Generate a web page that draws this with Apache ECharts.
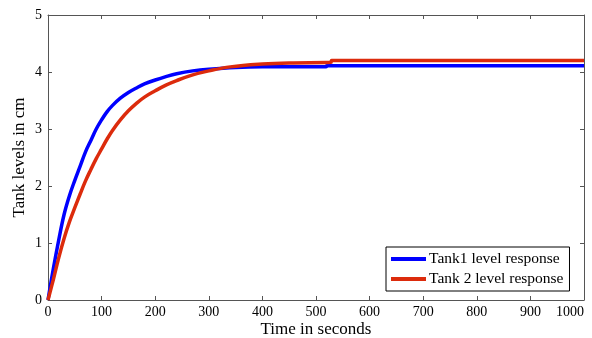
<!DOCTYPE html>
<html>
<head>
<meta charset="utf-8">
<script src="https://cdn.jsdelivr.net/npm/echarts@6/dist/echarts.min.js"></script>
<style>
  html, body { margin: 0; padding: 0; background: #fff; }
  #chart { width: 592px; height: 338px; }
</style>
</head>
<body>
<div id="chart"></div>
<script>
// time samples (s) and levels (cm)
const tank1Time = [0, 10, 20, 30, 40, 50, 60, 70, 80, 90, 100, 110, 120, 135, 150, 165, 180, 200, 220, 240, 270, 300, 350, 400, 450, 519, 520, 600, 700, 800, 900, 1000];
const tank1Level = [0, 0.55, 1.05, 1.5, 1.83, 2.1, 2.35, 2.6, 2.8, 3.0, 3.16, 3.3, 3.41, 3.54, 3.64, 3.72, 3.79, 3.86, 3.92, 3.97, 4.02, 4.05, 4.08, 4.09, 4.09, 4.09, 4.11, 4.11, 4.11, 4.11, 4.11, 4.11];

const tank2Time = [0, 10, 20, 30, 40, 50, 60, 70, 80, 90, 100, 110, 120, 135, 150, 165, 180, 200, 220, 240, 270, 300, 340, 400, 450, 528, 529, 600, 700, 800, 900, 1000];
const tank2Level = [0, 0.36, 0.74, 1.08, 1.37, 1.62, 1.86, 2.09, 2.29, 2.48, 2.65, 2.82, 2.97, 3.16, 3.32, 3.45, 3.56, 3.67, 3.77, 3.85, 3.95, 4.02, 4.09, 4.14, 4.16, 4.17, 4.2, 4.2, 4.2, 4.2, 4.2, 4.2];

const seriesNames = ["Tank1 level response", "Tank 2 level response"];
const xTicks = [0, 1000, 100];
const yTicks = [0, 5, 1];

const pairs = (xs, ys) => xs.map((x, i) => [x, ys[i]]);

const font = "'Liberation Serif', 'Times New Roman', serif";
const axisColor = "#555";

const chart = echarts.init(document.getElementById("chart"));

const baseX = {
  type: "value",
  min: xTicks[0],
  max: xTicks[1],
  interval: xTicks[2],
  splitLine: { show: false },
  axisLine: { show: true, onZero: false, lineStyle: { color: axisColor, width: 1 } },
  axisTick: { show: true, inside: true, length: 4, lineStyle: { color: axisColor } },
};
const baseY = {
  type: "value",
  min: yTicks[0],
  max: yTicks[1],
  interval: yTicks[2],
  splitLine: { show: false },
  axisLine: { show: true, onZero: false, lineStyle: { color: axisColor, width: 1 } },
  axisTick: { show: true, inside: true, length: 4, lineStyle: { color: axisColor } },
};

const option = {
  animation: false,
  backgroundColor: "#fff",
  grid: { left: 48, right: 8, top: 15, bottom: 38, containLabel: false, outerBoundsMode: "none" },
  legend: {
    data: seriesNames,
    orient: "vertical",
    left: 386,
    top: 247,
    padding: [4, 6, 4, 5],
    itemGap: 4,
    itemWidth: 35,
    itemHeight: 4,
    icon: "rect",
    borderColor: "#000",
    borderWidth: 1,
    backgroundColor: "#fff",
    textStyle: { fontFamily: font, fontSize: 15.5, color: "#000", padding: [0, 0, 0, -2] },
  },
  xAxis: [
    Object.assign({}, baseX, {
      position: "bottom",
      name: "Time in seconds",
      nameLocation: "middle",
      nameGap: 21,
      nameMoveOverlap: false,
      nameTextStyle: { fontFamily: font, fontSize: 17, color: "#000" },
      axisLabel: {
        fontFamily: font, fontSize: 14, color: "#000", margin: 5,
        alignMaxLabel: "right",
        formatter: (v) => String(v),
      },
    }),
    Object.assign({}, baseX, { position: "top", axisLabel: { show: false } }),
  ],
  yAxis: [
    Object.assign({}, baseY, {
      position: "left",
      name: "Tank levels in cm",
      nameLocation: "middle",
      nameGap: 20,
      nameMoveOverlap: false,
      nameTextStyle: { fontFamily: font, fontSize: 17, color: "#000" },
      axisLabel: { fontFamily: font, fontSize: 14, color: "#000", margin: 6 },
    }),
    Object.assign({}, baseY, { position: "right", axisLabel: { show: false } }),
  ],
  series: [
    {
      name: seriesNames[0],
      type: "line",
      showSymbol: false,
      symbol: "none",
      smooth: 0.4,
      itemStyle: { color: "#0000ff" },
      lineStyle: { color: "#0000ff", width: 3.5 },
      data: pairs(tank1Time, tank1Level),
    },
    {
      name: seriesNames[1],
      type: "line",
      showSymbol: false,
      symbol: "none",
      smooth: 0.4,
      itemStyle: { color: "#dc2b0c" },
      lineStyle: { color: "#dc2b0c", width: 3.5 },
      data: pairs(tank2Time, tank2Level),
    },
  ],
};

chart.setOption(option);
</script>
</body>
</html>
